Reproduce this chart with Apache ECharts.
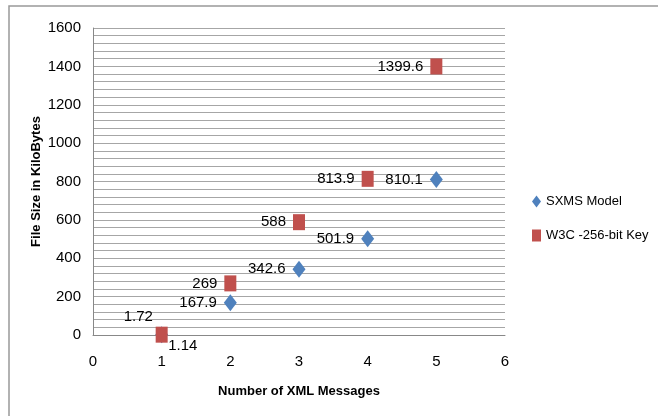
<!DOCTYPE html>
<html><head><meta charset="utf-8">
<script src="https://cdn.jsdelivr.net/npm/echarts@6/dist/echarts.min.js"></script>
<style>html,body{margin:0;padding:0;background:#fff}#c{width:658px;height:416px}</style>
</head><body><div id="c"></div>
<script>
const xValues = [1, 2, 3, 4, 5];
const sxmsValues = [1.14, 167.9, 342.6, 501.9, 810.1];
const w3cValues = [1.72, 269, 588, 813.9, 1399.6];
const seriesNames = ['SXMS Model', 'W3C -256-bit Key'];
const xTitle = 'Number of XML Messages';
const yTitle = 'File Size in KiloBytes';

const FONT = '"Liberation Sans Narrow", "Liberation Sans", Arial, sans-serif';
const chart = echarts.init(document.getElementById('c'));
const grid = '#A6A6A6';

function pts(vals) { return xValues.map((x, i) => [x, vals[i]]); }

const sxmsData = pts(sxmsValues).map((d, i) => i === 0 ? {value: d, label: {position: [13, 12]}} : d);
const w3cData = pts(w3cValues).map((d, i) => i === 0 ? {value: d, label: {position: [-32, -17]}} : d);

chart.setOption({
  animation: false,
  graphic: [{type: 'polyline', shape: {points: [[9, 420], [9, 6], [660, 6]]}, style: {stroke: '#999', lineWidth: 1.5, fill: null}}],
  grid: {left: 93, right: 153, top: 28, bottom: 81},
  xAxis: {
    type: 'value', min: 0, max: 6, interval: 1,
    name: xTitle, nameLocation: 'middle', nameGap: 50, nameMoveOverlap: false,
    nameTextStyle: {fontFamily: FONT, fontWeight: 'bold', fontSize: 13, color: '#000'},
    axisLine: {show: true, lineStyle: {color: '#888'}}, axisTick: {show: false},
    axisLabel: {fontFamily: FONT, fontSize: 15, color: '#000', margin: 19},
    splitLine: {show: false}
  },
  yAxis: {
    type: 'value', min: 0, max: 1600, interval: 200,
    name: yTitle, nameLocation: 'middle', nameGap: 50, nameRotate: 90, nameMoveOverlap: false,
    nameTextStyle: {fontFamily: FONT, fontWeight: 'bold', fontSize: 13, color: '#000'},
    axisLine: {show: true, lineStyle: {color: '#888'}}, axisTick: {show: false},
    axisLabel: {fontFamily: FONT, fontSize: 15, color: '#000', margin: 12, formatter: v => String(v)},
    splitLine: {show: true, lineStyle: {color: grid, width: 1}},
    minorTick: {show: false, splitNumber: 5},
    minorSplitLine: {show: true, lineStyle: {color: grid, width: 1}}
  },
  legend: {
    orient: 'vertical', left: 527, top: 190, itemGap: 21,
    itemWidth: 9, itemHeight: 12,
    textStyle: {fontFamily: FONT, fontSize: 13, color: '#000'},
    data: [{name: seriesNames[0], icon: 'diamond'}, {name: seriesNames[1], icon: 'rect'}]
  },
  series: [
    {
      name: seriesNames[0], type: 'scatter', symbol: 'diamond', symbolSize: [13, 17],
      itemStyle: {color: '#4F81BD', opacity: 1}, data: sxmsData, z: 2,
      label: {show: true, position: 'left', distance: 7, fontFamily: FONT, fontSize: 15, color: '#000'}
    },
    {
      name: seriesNames[1], type: 'scatter', symbol: 'rect', symbolSize: [12, 16],
      itemStyle: {color: '#C0504D', opacity: 1}, data: w3cData, z: 3,
      label: {show: true, position: 'left', distance: 7, fontFamily: FONT, fontSize: 15, color: '#000'}
    }
  ]
});
</script></body></html>
